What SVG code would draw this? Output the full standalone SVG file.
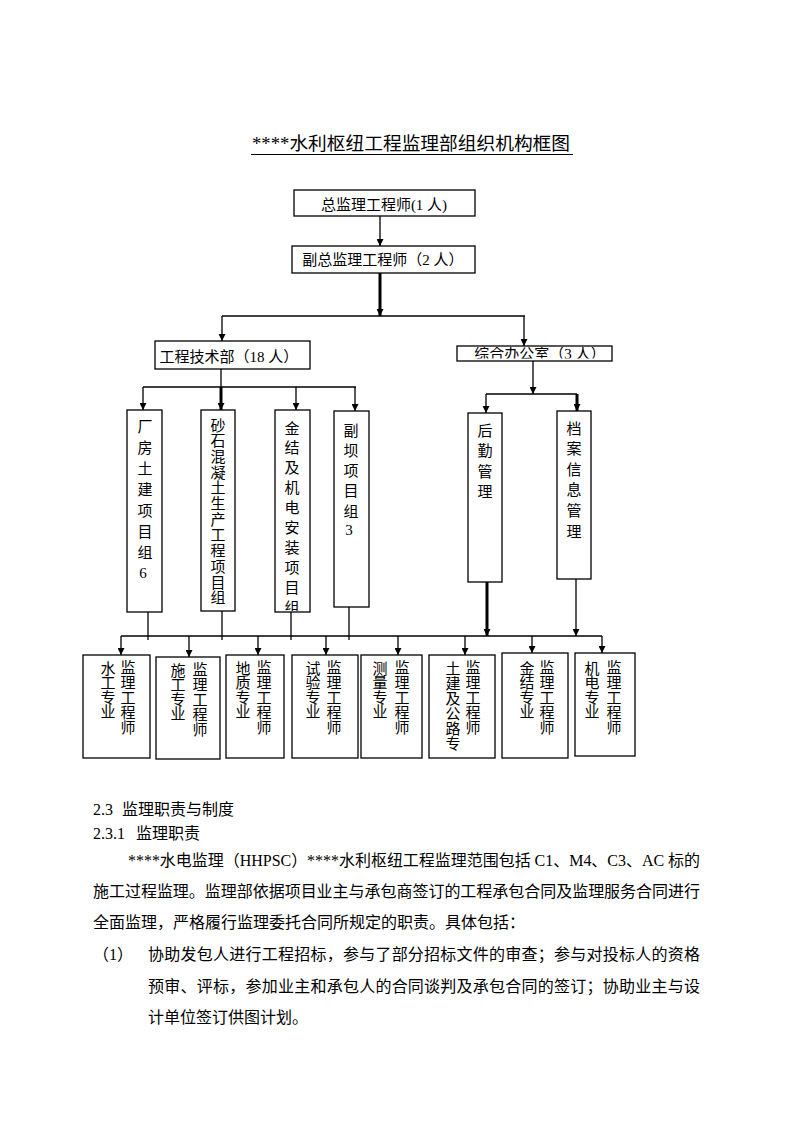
<svg xmlns="http://www.w3.org/2000/svg" width="794" height="1123" viewBox="0 0 794 1123">
<style>
.bx{fill:#fff;stroke:#000;stroke-width:1.3}
.ln{fill:none;stroke:#000;stroke-width:1.3}
.ar{marker-end:url(#ah)}
.th{stroke-width:3}
.t{font-family:"Liberation Serif","Noto Sans CJK SC",serif;font-size:15px;fill:#000}
.c{text-anchor:middle}
.b{font-family:"Liberation Serif","Noto Sans CJK SC",serif;font-size:16px;fill:#000}
</style>
<defs>
<marker id="ah" viewBox="0 0 8 8" refX="8" refY="4" markerWidth="7" markerHeight="7" markerUnits="userSpaceOnUse" orient="auto"><path d="M0,0L8,4L0,8z" fill="#000"/></marker>
<clipPath id="c4"><rect x="458" y="347" width="153" height="11.5"/></clipPath>
<clipPath id="cj"><rect x="275" y="410" width="35" height="201"/></clipPath>
</defs>
<rect width="794" height="1123" fill="#fff"/>

<g id="title">
<text x="411" y="150" font-family="Liberation Serif, Noto Sans CJK SC, serif" font-size="18" text-anchor="middle" textLength="318" lengthAdjust="spacingAndGlyphs">****水利枢纽工程监理部组织机构框图</text>
<line x1="251" y1="154.5" x2="573" y2="154.5" stroke="#000" stroke-width="1.2"/>
</g>

<g id="connectors">
<line class="ln ar" x1="380" y1="216" x2="380" y2="246"/>
<line class="ln ar th" x1="380" y1="273" x2="380" y2="316"/>
<line class="ln" x1="222" y1="316" x2="525" y2="316"/>
<line class="ln ar" x1="222" y1="316" x2="222" y2="341"/>
<line class="ln ar" x1="524" y1="316" x2="524" y2="346"/>
<line class="ln" x1="221" y1="369" x2="221" y2="387"/>
<line class="ln" x1="143" y1="387" x2="356" y2="387"/>
<line class="ln ar" x1="143" y1="387" x2="143" y2="410"/>
<line class="ln ar th" x1="221" y1="387" x2="221" y2="410"/>
<line class="ln ar" x1="296" y1="387" x2="296" y2="410"/>
<line class="ln ar" x1="355" y1="387" x2="355" y2="411"/>
<line class="ln ar" x1="533" y1="361" x2="533" y2="394"/>
<line class="ln" x1="486" y1="394" x2="577" y2="394"/>
<line class="ln ar" x1="486" y1="394" x2="486" y2="413"/>
<line class="ln ar th" x1="577" y1="394" x2="577" y2="411"/>
<line class="ln" x1="148" y1="612" x2="148" y2="640"/>
<line class="ln" x1="222" y1="611" x2="222" y2="640"/>
<line class="ln" x1="291" y1="612" x2="291" y2="640"/>
<line class="ln" x1="349" y1="607" x2="349" y2="640"/>
<line class="ln ar th" x1="487" y1="582" x2="487" y2="636"/>
<line class="ln ar" x1="576" y1="579" x2="576" y2="636"/>
<line class="ln" x1="121" y1="636" x2="602" y2="636"/>
<line class="ln ar" x1="121" y1="636" x2="121" y2="655"/>
<line class="ln ar" x1="189" y1="636" x2="189" y2="657"/>
<line class="ln ar" x1="258" y1="636" x2="258" y2="655"/>
<line class="ln ar" x1="326" y1="636" x2="326" y2="655"/>
<line class="ln ar" x1="398" y1="636" x2="398" y2="655"/>
<line class="ln ar" x1="465" y1="636" x2="465" y2="655"/>
<line class="ln ar" x1="532" y1="636" x2="532" y2="653"/>
<line class="ln ar" x1="602" y1="636" x2="602" y2="653"/>
</g>

<g id="n-chief">
<rect class="bx" x="294" y="190" width="181" height="26"/>
<text class="t c" x="384" y="210">总监理工程师(1 人)</text>
</g>
<g id="n-deputy">
<rect class="bx" x="292" y="246" width="183" height="27"/>
<text class="t c" x="383" y="265">副总监理工程师（2 人）</text>
</g>
<g id="n-tech">
<rect class="bx" x="155" y="341" width="155" height="28"/>
<text class="t c" x="229" y="362">工程技术部（18 人）</text>
</g>
<g id="n-office">
<rect class="bx" x="457" y="346" width="155" height="15"/>
<text class="t c" x="540" y="359" clip-path="url(#c4)">综合办公室（3 人）</text>
</g>

<g id="n-g1">
<rect class="bx" x="127" y="410" width="35" height="202"/>
<text class="t c" x="145 145 145 145 145 145 145" y="432 453 474 495 516 537 558">厂房土建项目组</text>
<text class="t c" x="143" y="578">6</text>
</g>
<g id="n-g2">
<rect class="bx" x="201" y="410" width="34" height="201"/>
<text class="t c" x="218 218 218 218 218 218 218 218 218 218 218 218" y="430.5 446.2 461.9 477.6 493.3 509 524.7 540.4 556.1 571.8 587.5 603.2">砂石混凝土生产工程项目组</text>
</g>
<g id="n-g3">
<rect class="bx" x="275" y="410" width="35" height="202"/>
<text class="t c" clip-path="url(#cj)" x="292 292 292 292 292 292 292 292 292 292" y="433.5 453.4 473.3 493.2 513.1 533 552.9 572.8 592.7 612.6">金结及机电安装项目组</text>
</g>
<g id="n-g4">
<rect class="bx" x="334" y="411" width="35" height="196"/>
<text class="t c" x="351 351 351 351 351" y="435.5 455.8 476 496.3 516.5">副坝项目组</text>
<text class="t c" x="349" y="535">3</text>
</g>
<g id="n-logi">
<rect class="bx" x="468" y="413" width="34" height="169"/>
<text class="t c" x="485 485 485 485" y="435.5 456 476.5 497">后勤管理</text>
</g>
<g id="n-arch">
<rect class="bx" x="557" y="411" width="34" height="168"/>
<text class="t c" x="574 574 574 574 574 574" y="433.5 454.1 474.7 495.3 515.9 536.5">档案信息管理</text>
</g>

<g id="n-s1">
<rect class="bx" x="83" y="655" width="67" height="103"/>
<text class="t c" x="108 108 108 108" y="673.5 688 702.5 717">水工专业</text>
<text class="t c" x="128 128 128 128 128" y="672.5 687.5 702.5 717.5 732.5">监理工程师</text>
</g>
<g id="n-s2">
<rect class="bx" x="156" y="657" width="64" height="102"/>
<text class="t c" x="178 178 178 178" y="675.5 690 704.5 719">施工专业</text>
<text class="t c" x="200 200 200 200 200" y="674.5 689.5 704.5 719.5 734.5">监理工程师</text>
</g>
<g id="n-s3">
<rect class="bx" x="226" y="655" width="58" height="103"/>
<text class="t c" x="243 243 243 243" y="673.5 688 702.5 717">地质专业</text>
<text class="t c" x="264 264 264 264 264" y="672.5 687.5 702.5 717.5 732.5">监理工程师</text>
</g>
<g id="n-s4">
<rect class="bx" x="292" y="655" width="66" height="103"/>
<text class="t c" x="313 313 313 313" y="673.5 688 702.5 717">试验专业</text>
<text class="t c" x="334 334 334 334 334" y="672.5 687.5 702.5 717.5 732.5">监理工程师</text>
</g>
<g id="n-s5">
<rect class="bx" x="361" y="655" width="61" height="103"/>
<text class="t c" x="380 380 380 380" y="673.5 688 702.5 717">测量专业</text>
<text class="t c" x="402 402 402 402 402" y="672.5 687.5 702.5 717.5 732.5">监理工程师</text>
</g>
<g id="n-s6">
<rect class="bx" x="429" y="655" width="66" height="103"/>
<text class="t c" x="453 453 453 453 453 453" y="673.5 688.6 703.7 718.8 733.9 749">土建及公路专</text>
<text class="t c" x="473 473 473 473 473" y="672.5 687.5 702.5 717.5 732.5">监理工程师</text>
</g>
<g id="n-s7">
<rect class="bx" x="502" y="653" width="66" height="105"/>
<text class="t c" x="527 527 527 527" y="673.5 688 702.5 717">金结专业</text>
<text class="t c" x="547 547 547 547 547" y="672.5 687.5 702.5 717.5 732.5">监理工程师</text>
</g>
<g id="n-s8">
<rect class="bx" x="575" y="653" width="60" height="103"/>
<text class="t c" x="592 592 592 592" y="673.5 688 702.5 717">机电专业</text>
<text class="t c" x="614 614 614 614 614" y="672.5 687.5 702.5 717.5 732.5">监理工程师</text>
</g>

<g id="body">
<text class="b" x="93" y="815">2.3<tspan x="122">监理职责与制度</tspan></text>
<text class="b" x="93" y="839">2.3.1<tspan x="136">监理职责</tspan></text>
<text class="b" x="128" y="866" textLength="572" lengthAdjust="spacing">****水电监理（HHPSC）****水利枢纽工程监理范围包括 C1、M4、C3、AC 标的</text>
<text class="b" x="93" y="897" textLength="607" lengthAdjust="spacing">施工过程监理。监理部依据项目业主与承包商签订的工程承包合同及监理服务合同进行</text>
<text class="b" x="93" y="928">全面监理，严格履行监理委托合同所规定的职责。具体包括：</text>
<text class="b" x="93" y="960">（1）</text>
<text class="b" x="148" y="960" textLength="552" lengthAdjust="spacing">协助发包人进行工程招标，参与了部分招标文件的审查；参与对投标人的资格</text>
<text class="b" x="148" y="992" textLength="552" lengthAdjust="spacing">预审、评标，参加业主和承包人的合同谈判及承包合同的签订；协助业主与设</text>
<text class="b" x="148" y="1023">计单位签订供图计划。</text>
</g>
</svg>
